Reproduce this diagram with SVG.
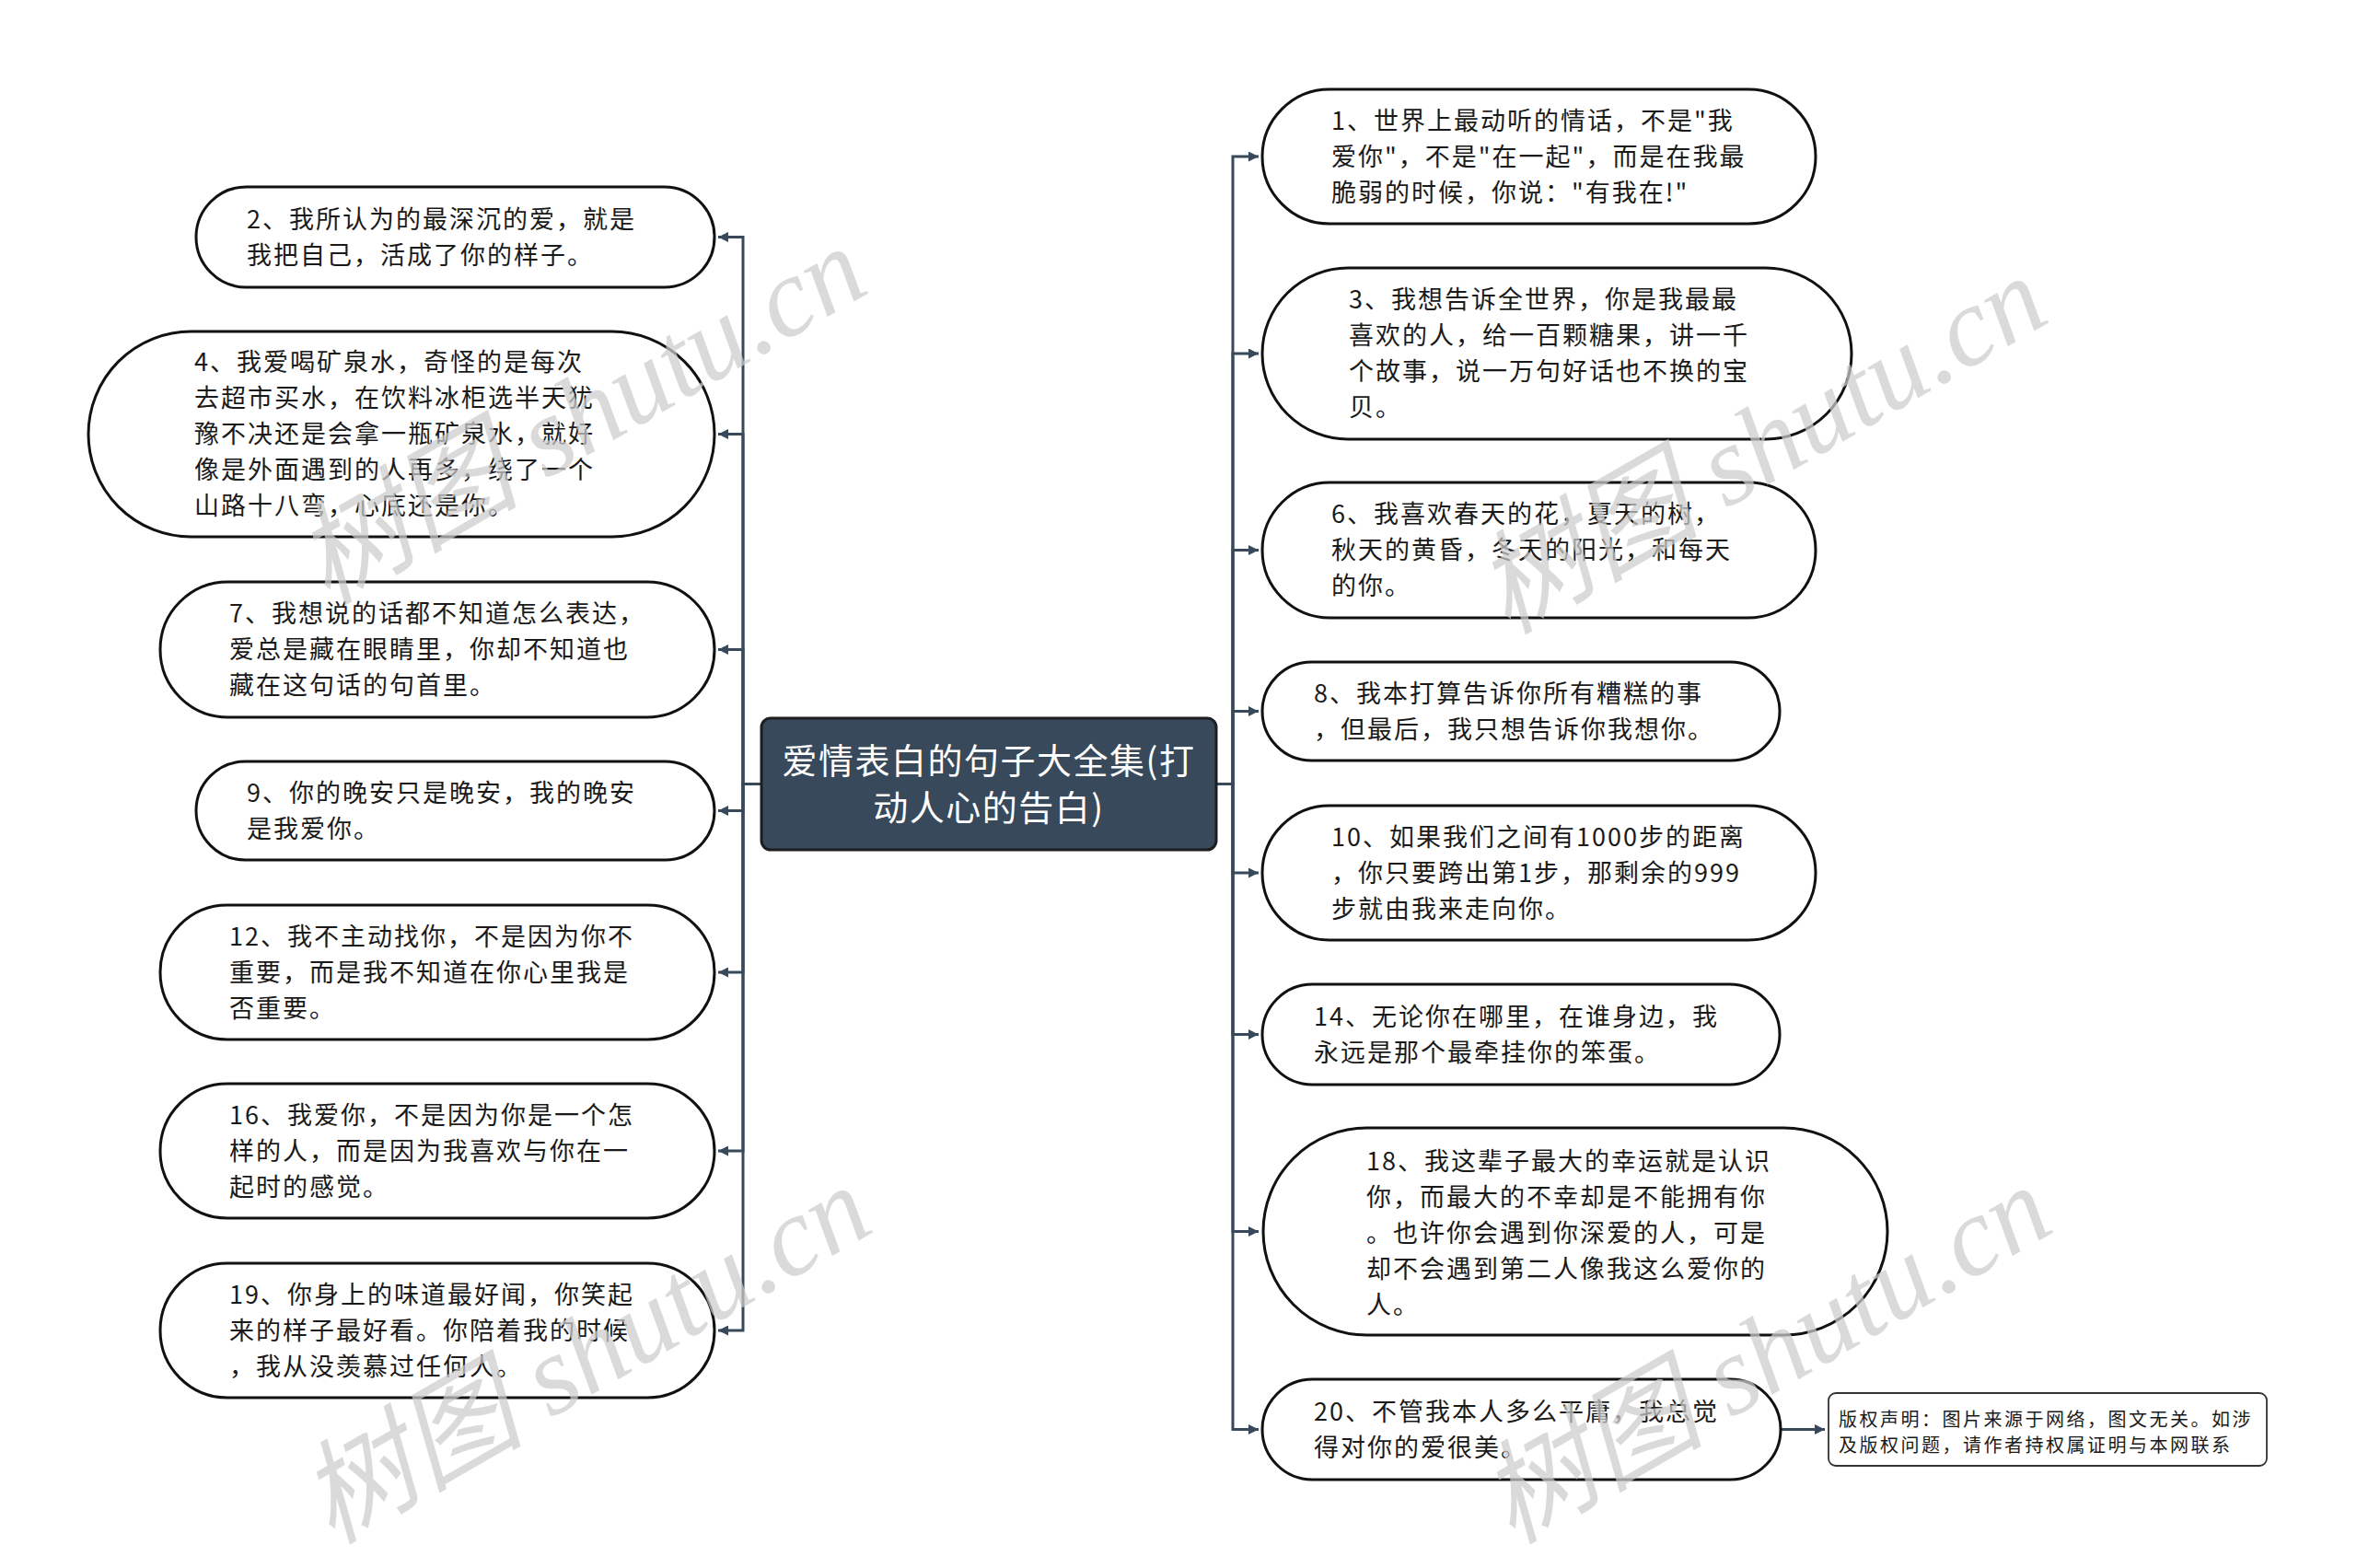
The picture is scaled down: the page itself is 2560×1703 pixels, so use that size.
<svg xmlns="http://www.w3.org/2000/svg" width="2560" height="1703" viewBox="0 0 2560 1703">
<defs>
<style>
.node rect{fill:#fff;stroke:#111;stroke-width:3}
.node text{font-family:"Noto Sans CJK SC","Noto Sans",sans-serif;font-size:27px;letter-spacing:2px;fill:#1a1a1a}
.root rect{fill:#37495a;stroke:#1e1e1e;stroke-width:3}
.root text{font-family:"Noto Sans CJK SC","Noto Sans",sans-serif;font-size:38px;letter-spacing:1.5px;fill:#fff;text-anchor:middle}
.note rect{fill:#fff;stroke:#333;stroke-width:1.8}
.note text{font-family:"Noto Sans CJK SC","Noto Sans",sans-serif;font-size:20px;letter-spacing:2.5px;fill:#1a1a1a}
.conn path{fill:none;stroke:#37495a;stroke-width:3}
.wm{font-family:"Liberation Serif","Noto Sans CJK SC",serif;font-style:italic;font-size:122px;fill:#cdcdcd;opacity:0.72}
</style>
<marker id="ah" markerUnits="userSpaceOnUse" viewBox="0 0 10 10" refX="10" refY="5" markerWidth="11" markerHeight="11" orient="auto">
<path d="M0,0 L10,5 L0,10 z" fill="#37495a"/>
</marker>
</defs>
<rect width="2560" height="1703" fill="#fff"/>

<g id="connectors" class="conn">
<path d="M827,851.5 H807 V257.5 H780" marker-end="url(#ah)"/>
<path d="M827,851.5 H807 V471.5 H780" marker-end="url(#ah)"/>
<path d="M827,851.5 H807 V705.5 H780" marker-end="url(#ah)"/>
<path d="M827,851.5 H807 V880.5 H780" marker-end="url(#ah)"/>
<path d="M827,851.5 H807 V1056 H780" marker-end="url(#ah)"/>
<path d="M827,851.5 H807 V1250 H780" marker-end="url(#ah)"/>
<path d="M827,851.5 H807 V1445 H780" marker-end="url(#ah)"/>
<path d="M1321,851.5 H1339 V170 H1367" marker-end="url(#ah)"/>
<path d="M1321,851.5 H1339 V384 H1367" marker-end="url(#ah)"/>
<path d="M1321,851.5 H1339 V597.5 H1367" marker-end="url(#ah)"/>
<path d="M1321,851.5 H1339 V772.5 H1367" marker-end="url(#ah)"/>
<path d="M1321,851.5 H1339 V948 H1367" marker-end="url(#ah)"/>
<path d="M1321,851.5 H1339 V1123.5 H1367" marker-end="url(#ah)"/>
<path d="M1321,851.5 H1339 V1337.5 H1367" marker-end="url(#ah)"/>
<path d="M1321,851.5 H1339 V1552.5 H1367" marker-end="url(#ah)"/>
<path d="M1934,1552.5 H1982" marker-end="url(#ah)"/>
</g>

<g id="root" class="root">
<rect x="827" y="780" width="494" height="143" rx="10" ry="10"/>
<text><tspan x="1074" y="840">爱情表白的句子大全集(打</tspan><tspan x="1074" y="891">动人心的告白)</tspan></text>
</g>

<g id="n2" class="node">
<rect x="213" y="203" width="563" height="109" rx="54.5" ry="54.5"/>
<text><tspan x="268" y="247.5">2、我所认为的最深沉的爱，就是</tspan><tspan x="268" y="286.5">我把自己，活成了你的样子。</tspan></text>
</g>
<g id="n4" class="node">
<rect x="96" y="360" width="680" height="223" rx="111.5" ry="111.5"/>
<text><tspan x="211" y="403">4、我爱喝矿泉水，奇怪的是每次</tspan><tspan x="211" y="442">去超市买水，在饮料冰柜选半天犹</tspan><tspan x="211" y="481">豫不决还是会拿一瓶矿泉水，就好</tspan><tspan x="211" y="520">像是外面遇到的人再多，绕了一个</tspan><tspan x="211" y="559">山路十八弯，心底还是你。</tspan></text>
</g>
<g id="n7" class="node">
<rect x="174" y="632" width="602" height="147" rx="73.5" ry="73.5"/>
<text><tspan x="249" y="676">7、我想说的话都不知道怎么表达，</tspan><tspan x="249" y="715">爱总是藏在眼睛里，你却不知道也</tspan><tspan x="249" y="754">藏在这句话的句首里。</tspan></text>
</g>
<g id="n9" class="node">
<rect x="213" y="827" width="563" height="107" rx="53.5" ry="53.5"/>
<text><tspan x="268" y="870.5">9、你的晚安只是晚安，我的晚安</tspan><tspan x="268" y="909.5">是我爱你。</tspan></text>
</g>
<g id="n12" class="node">
<rect x="174" y="983" width="602" height="146" rx="73" ry="73"/>
<text><tspan x="249" y="1026.5">12、我不主动找你，不是因为你不</tspan><tspan x="249" y="1065.5">重要，而是我不知道在你心里我是</tspan><tspan x="249" y="1104.5">否重要。</tspan></text>
</g>
<g id="n16" class="node">
<rect x="174" y="1177" width="602" height="146" rx="73" ry="73"/>
<text><tspan x="249" y="1220.5">16、我爱你，不是因为你是一个怎</tspan><tspan x="249" y="1259.5">样的人，而是因为我喜欢与你在一</tspan><tspan x="249" y="1298.5">起时的感觉。</tspan></text>
</g>
<g id="n19" class="node">
<rect x="174" y="1372" width="602" height="146" rx="73" ry="73"/>
<text><tspan x="249" y="1415.5">19、你身上的味道最好闻，你笑起</tspan><tspan x="249" y="1454.5">来的样子最好看。你陪着我的时候</tspan><tspan x="249" y="1493.5">，我从没羡慕过任何人。</tspan></text>
</g>

<g id="n1" class="node">
<rect x="1371" y="97" width="601" height="146" rx="73" ry="73"/>
<text><tspan x="1446" y="140.5">1、世界上最动听的情话，不是"我</tspan><tspan x="1446" y="179.5">爱你"，不是"在一起"，而是在我最</tspan><tspan x="1446" y="218.5">脆弱的时候，你说："有我在!"</tspan></text>
</g>
<g id="n3" class="node">
<rect x="1371" y="291" width="640" height="186" rx="93" ry="93"/>
<text><tspan x="1465" y="335">3、我想告诉全世界，你是我最最</tspan><tspan x="1465" y="374">喜欢的人，给一百颗糖果，讲一千</tspan><tspan x="1465" y="413">个故事，说一万句好话也不换的宝</tspan><tspan x="1465" y="452">贝。</tspan></text>
</g>
<g id="n6" class="node">
<rect x="1371" y="524" width="601" height="147" rx="73.5" ry="73.5"/>
<text><tspan x="1446" y="568">6、我喜欢春天的花，夏天的树，</tspan><tspan x="1446" y="607">秋天的黄昏，冬天的阳光，和每天</tspan><tspan x="1446" y="646">的你。</tspan></text>
</g>
<g id="n8" class="node">
<rect x="1371" y="719" width="562" height="107" rx="53.5" ry="53.5"/>
<text><tspan x="1427" y="762.5">8、我本打算告诉你所有糟糕的事</tspan><tspan x="1427" y="801.5">，但最后，我只想告诉你我想你。</tspan></text>
</g>
<g id="n10" class="node">
<rect x="1371" y="875" width="601" height="146" rx="73" ry="73"/>
<text><tspan x="1446" y="918.5">10、如果我们之间有1000步的距离</tspan><tspan x="1446" y="957.5">，你只要跨出第1步，那剩余的999</tspan><tspan x="1446" y="996.5">步就由我来走向你。</tspan></text>
</g>
<g id="n14" class="node">
<rect x="1371" y="1069" width="562" height="109" rx="54.5" ry="54.5"/>
<text><tspan x="1427" y="1113.5">14、无论你在哪里，在谁身边，我</tspan><tspan x="1427" y="1152.5">永远是那个最牵挂你的笨蛋。</tspan></text>
</g>
<g id="n18" class="node">
<rect x="1372" y="1225" width="678" height="225" rx="112.5" ry="112.5"/>
<text><tspan x="1484" y="1271">18、我这辈子最大的幸运就是认识</tspan><tspan x="1484" y="1310">你，而最大的不幸却是不能拥有你</tspan><tspan x="1484" y="1349">。也许你会遇到你深爱的人，可是</tspan><tspan x="1484" y="1388">却不会遇到第二人像我这么爱你的</tspan><tspan x="1484" y="1427">人。</tspan></text>
</g>
<g id="n20" class="node">
<rect x="1371" y="1498" width="563" height="109" rx="54.5" ry="54.5"/>
<text><tspan x="1427" y="1542.5">20、不管我本人多么平庸，我总觉</tspan><tspan x="1427" y="1581.5">得对你的爱很美。</tspan></text>
</g>
<g id="copyright" class="note">
<rect x="1986" y="1513" width="476" height="79" rx="8" ry="8"/>
<text><tspan x="1997" y="1549">版权声明：图片来源于网络，图文无关。如涉</tspan><tspan x="1997" y="1577">及版权问题，请作者持权属证明与本网联系</tspan></text>
</g>

<g id="watermarks">
<text class="wm" transform="translate(355,658) rotate(-30)">树图 shutu.cn</text>
<text class="wm" transform="translate(360,1678) rotate(-30)">树图 shutu.cn</text>
<text class="wm" transform="translate(1637,690) rotate(-30)">树图 shutu.cn</text>
<text class="wm" transform="translate(1642,1678) rotate(-30)">树图 shutu.cn</text>
</g>
</svg>
